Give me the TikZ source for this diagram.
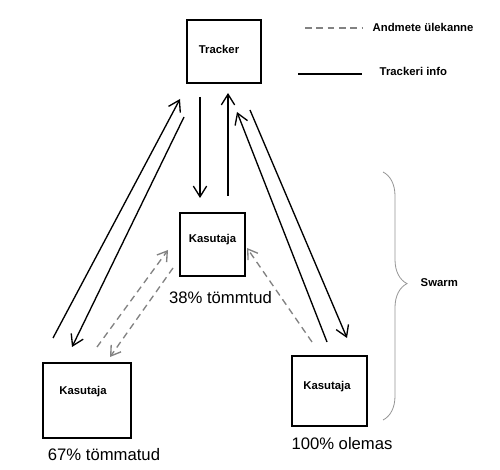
\documentclass[tikz,border=0pt]{standalone}
\usepackage{fontspec}
\setmainfont{Liberation Sans}
\usetikzlibrary{arrows.meta, positioning, calc, decorations.pathreplacing}
\definecolor{dashgray}{RGB}{130,130,130}
\definecolor{bracegray}{RGB}{150,150,150}

\tikzset{
  box/.style={draw=black, line width=1.4pt, inner sep=0pt, outer sep=0pt},
  boxlabel/.style={font=\fontsize{8.5}{10}\selectfont\bfseries},
  pct/.style={font=\fontsize{12.5}{14}\selectfont},
  info/.style={draw=black, line width=1pt, -{Straight Barb[length=8pt,width=10pt]}},
  data/.style={draw=dashgray, line width=1pt, dash pattern=on 5pt off 3.5pt,
               -{Straight Barb[length=7pt,width=9pt]}}
}

\begin{document}
\begin{tikzpicture}[x=0.75pt, y=-0.75pt]
    \useasboundingbox[fill=white] (0,0) rectangle (500,470);

    % boxes
    \node[box, minimum width=55.5pt, minimum height=47.25pt] (tracker) at (224,51.5) {};
    \node[box, minimum width=48.75pt, minimum height=47.25pt] (mid) at (212.5,244.5) {};
    \node[box, minimum width=66pt, minimum height=56.25pt] (left) at (87,400.5) {};
    \node[box, minimum width=56.25pt, minimum height=52.5pt] (right) at (329.5,391) {};

    \node[boxlabel] (trackertext) at ($(tracker.center)+(-5,-2.5)$) {Tracker};
    \node[boxlabel] (midtext) at ($(mid.center)+(0,-5)$) {Kasutaja};
    \node[boxlabel] (lefttext) at ($(left.center)+(-4,-9)$) {Kasutaja};
    \node[boxlabel] (righttext) at ($(right.center)+(-2.5,-4)$) {Kasutaja};

    % percentages
    \node[pct] (midpct) at (220.5,298) {38\% tömmtud};
    \node[pct] (leftpct) at (104,455) {67\% tömmatud};
    \node[pct] (rightpct) at (342,444) {100\% olemas};

    % tracker <-> middle
    \draw[info] ($(tracker.south)+(-24,14)$) -- ($(mid.north)+(-12.5,-15)$);
    \draw[info] ($(mid.north)+(15.5,-17)$) -- ($(tracker.south)+(4,10)$);

    % tracker <-> left
    \draw[info] ($(left.north)+(-34,-25)$) -- ($(tracker.south west)+(-7,16)$);
    \draw[info] ($(tracker.south west)+(-3,34)$) -- ($(left.north)+(-15,-16)$);

    % tracker <-> right
    \draw[info] ($(right.north)+(-2.5,-14)$) -- ($(tracker.south)+(13,29)$);
    \draw[info] ($(tracker.south)+(26,27)$) -- ($(right.north)+(17.5,-18)$);

    % data transfer
    \draw[data] ($(left.north)+(10,-16)$) -- ($(mid.west)+(-12,5.5)$);
    \draw[data] ($(mid.south west)+(-7,-8)$) -- ($(left.north)+(23,-6)$);
    \draw[data] ($(right.north)+(-17.5,-14)$) -- ($(mid.east)+(2,3.5)$);

    % legend
    \coordinate (dataA) at (305,28);
    \coordinate (dataB) at (362,28);
    \draw[draw=dashgray, line width=1pt, dash pattern=on 5pt off 3.5pt] (dataA) -- (dataB);
    \node[boxlabel, anchor=west] (datatext) at (368,27) {Andmete ülekanne};
    \coordinate (infoA) at (298,74);
    \coordinate (infoB) at (362,74);
    \draw[black, line width=1pt] (infoA) -- (infoB);
    \node[boxlabel, anchor=west] (infotext) at (375,71) {Trackeri info};

    % swarm brace
    \coordinate (braceTop) at (383,172);
    \coordinate (braceBot) at (383,420);
    \draw[bracegray, line width=0.6pt, decorate,
          decoration={brace, amplitude=18pt, aspect=0.45}] (braceTop) -- (braceBot);
    \node[boxlabel, anchor=west] (swarm) at (416,283) {Swarm};
\end{tikzpicture}
\end{document}
